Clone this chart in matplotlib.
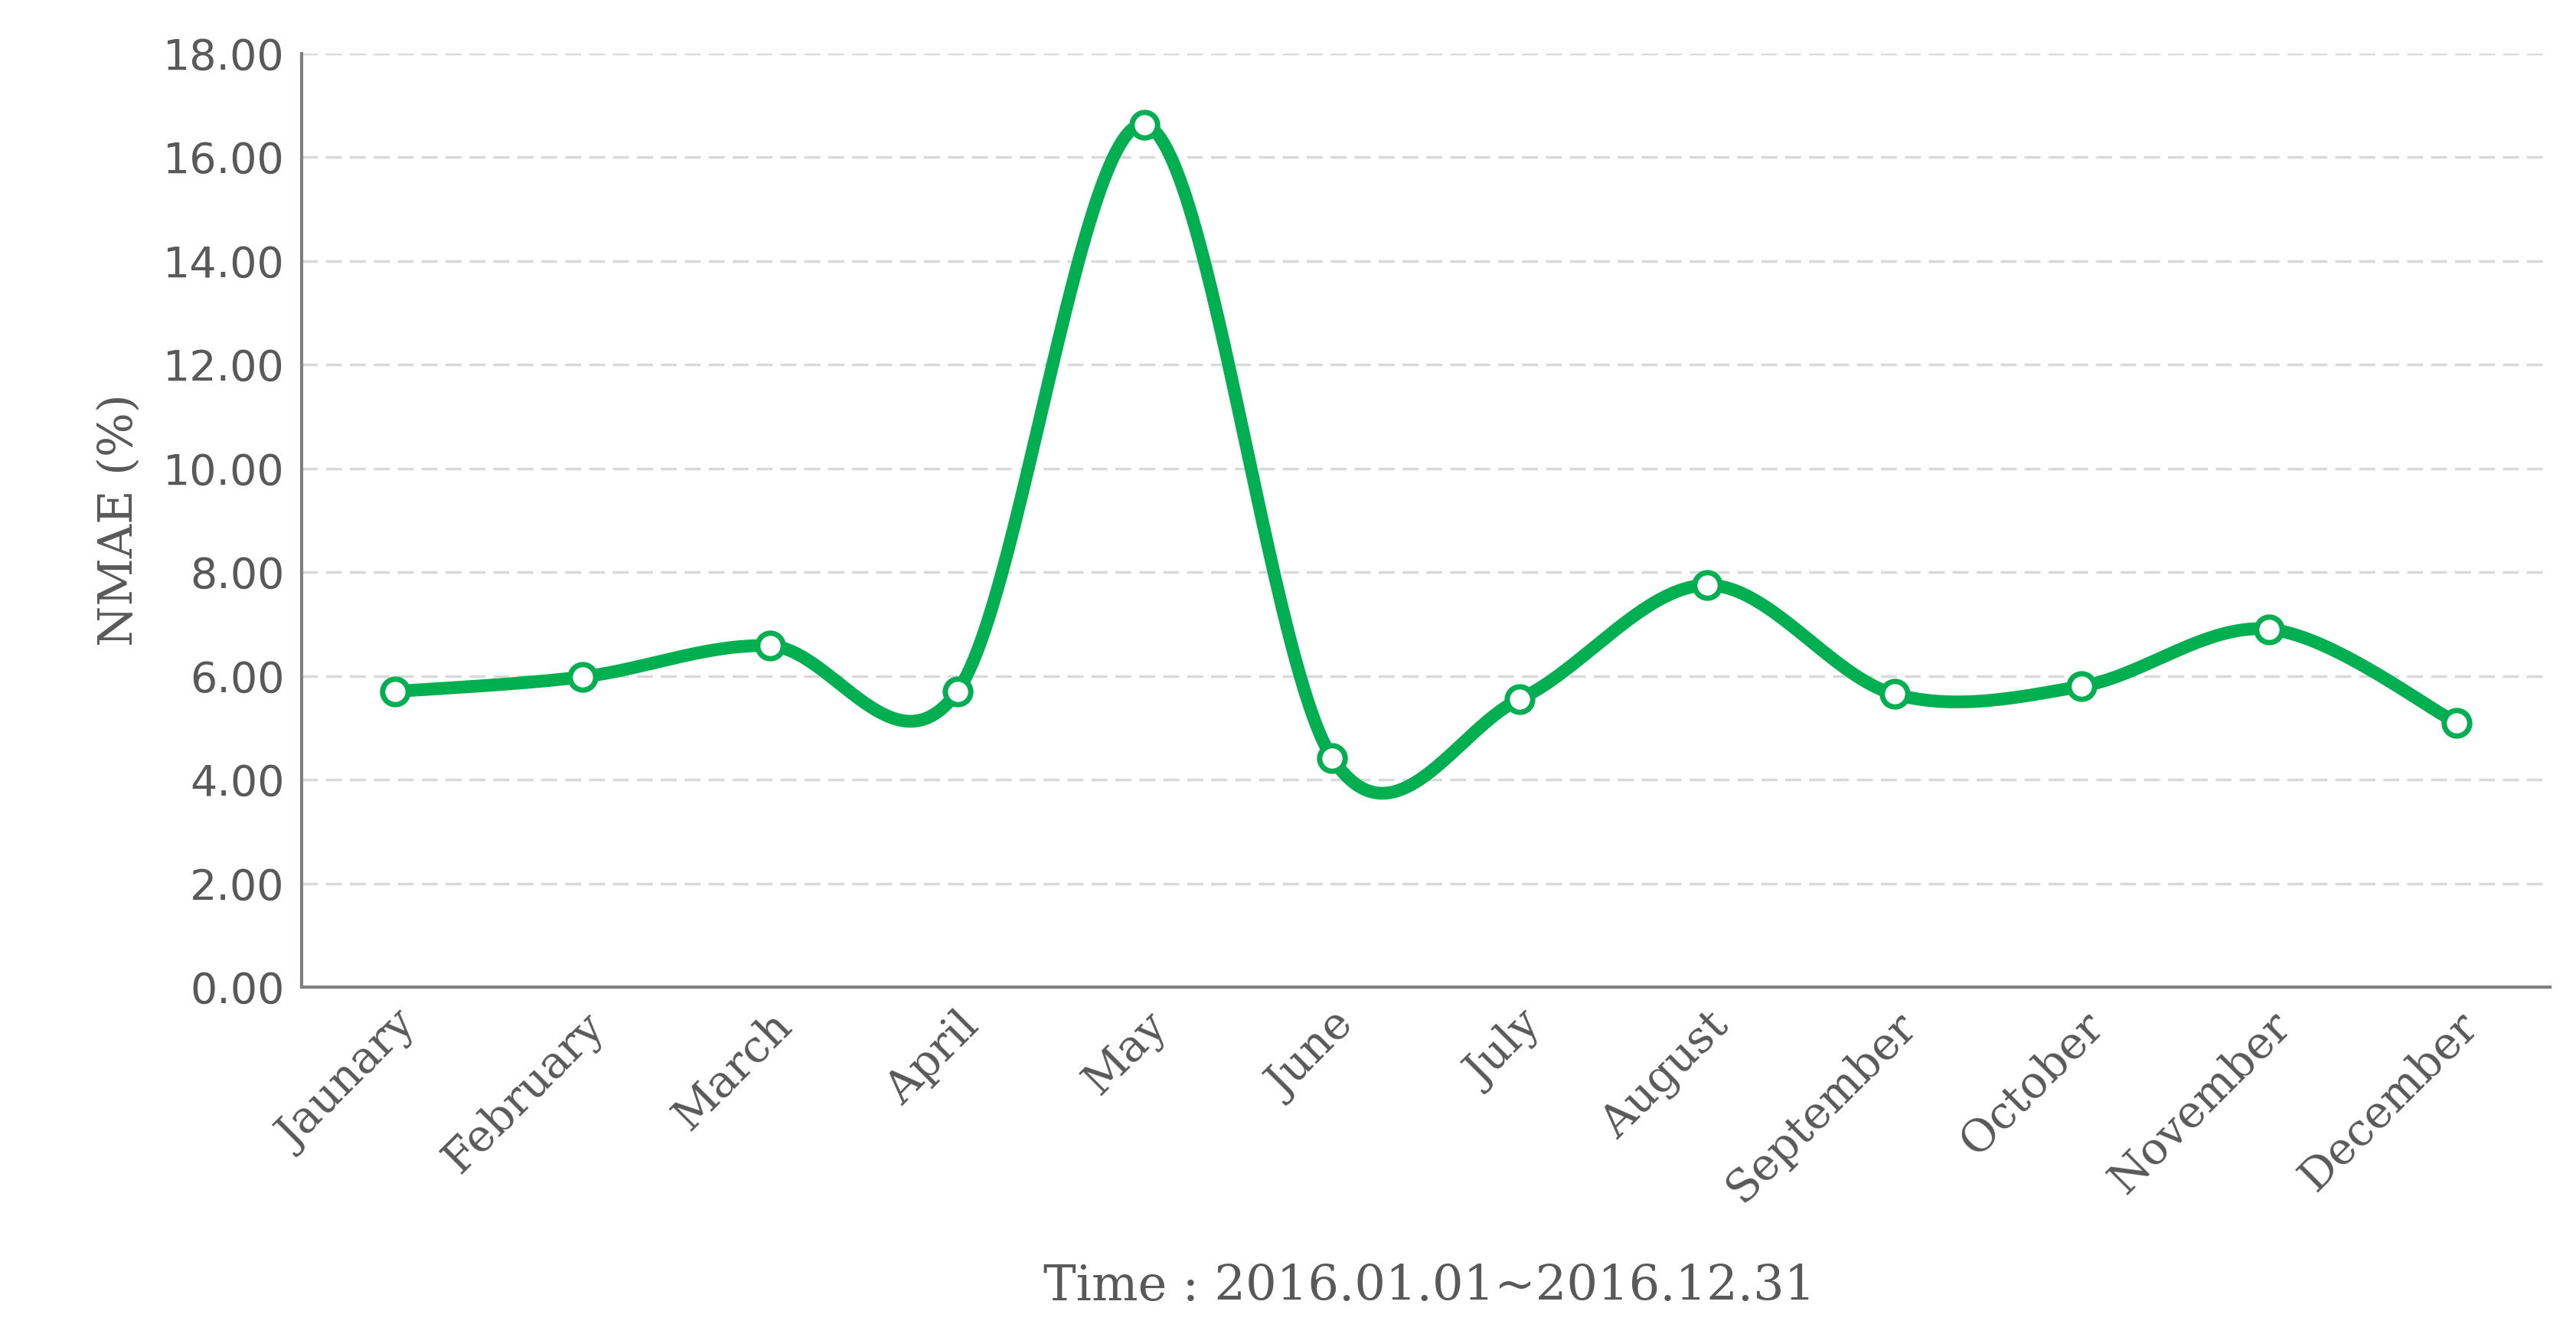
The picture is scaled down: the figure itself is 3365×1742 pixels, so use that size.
import numpy as np
import matplotlib.pyplot as plt

months = ["Jaunary", "February", "March", "April", "May", "June", "July",
          "August", "September", "October", "November", "December"]
nmae = [5.70, 5.98, 6.58, 5.70, 16.62, 4.42, 5.55, 7.75, 5.65, 5.80, 6.90, 5.10]
y_ticks = np.arange(0, 18.01, 2)

GREEN = "#00b050"
GREY = "#595959"


def smooth_curve(x, y, steps=60):
    # Catmull-Rom style smoothing like Excel's smoothed line
    x = np.asarray(x, float)
    y = np.asarray(y, float)
    px = np.concatenate([[x[0]], x, [x[-1]]])
    py = np.concatenate([[y[0]], y, [y[-1]]])
    out_x, out_y = [], []
    t = np.linspace(0, 1, steps)
    for i in range(1, len(px) - 2):
        p0 = np.array([px[i], py[i]])
        p3 = np.array([px[i + 1], py[i + 1]])
        p1 = p0 + (np.array([px[i + 1], py[i + 1]]) - np.array([px[i - 1], py[i - 1]])) / 6
        p2 = p3 - (np.array([px[i + 2], py[i + 2]]) - np.array([px[i], py[i]])) / 6
        b = ((1 - t) ** 3)[:, None] * p0 + (3 * (1 - t) ** 2 * t)[:, None] * p1 \
            + (3 * (1 - t) * t ** 2)[:, None] * p2 + (t ** 3)[:, None] * p3
        out_x.extend(b[:, 0])
        out_y.extend(b[:, 1])
    return out_x, out_y


fig = plt.figure(figsize=(33.65, 17.42), dpi=100)
ax = fig.add_axes([0.117, 0.26, 0.873, 0.70])

xs = np.arange(len(months))
cx, cy = smooth_curve(xs, nmae)
ax.plot(cx, cy, color=GREEN, lw=12, solid_capstyle="round", zorder=3)
ax.plot(xs, nmae, "o", ms=24, mfc="white", mec=GREEN, mew=5, zorder=4)

ax.set_xlim(-0.5, len(months) - 0.5)
ax.set_ylim(0, 18)
ax.set_yticks(y_ticks)
ax.set_yticklabels([f"{v:.2f}" for v in y_ticks], fontsize=40, color=GREY,
                   family="DejaVu Sans")
ax.set_xticks(xs)
ax.set_xticklabels(months, rotation=45, ha="right", rotation_mode="anchor",
                   fontsize=42, color=GREY, family="DejaVu Serif")
ax.tick_params(length=0, pad=16)
ax.grid(axis="y", color="#d9d9d9", lw=2.5, ls=(0, (6, 3)))
ax.set_axisbelow(True)
for s in ["top", "right"]:
    ax.spines[s].set_visible(False)
for s in ["left", "bottom"]:
    ax.spines[s].set_color("#7f7f7f")
    ax.spines[s].set_linewidth(3)

ax.set_ylabel("NMAE (%)", fontsize=44, color=GREY, family="DejaVu Serif", labelpad=20)
fig.text(0.555, 0.025, "Time : 2016.01.01~2016.12.31", ha="center",
         fontsize=46, color=GREY, family="DejaVu Serif")

fig.savefig("out.png", dpi=100)
